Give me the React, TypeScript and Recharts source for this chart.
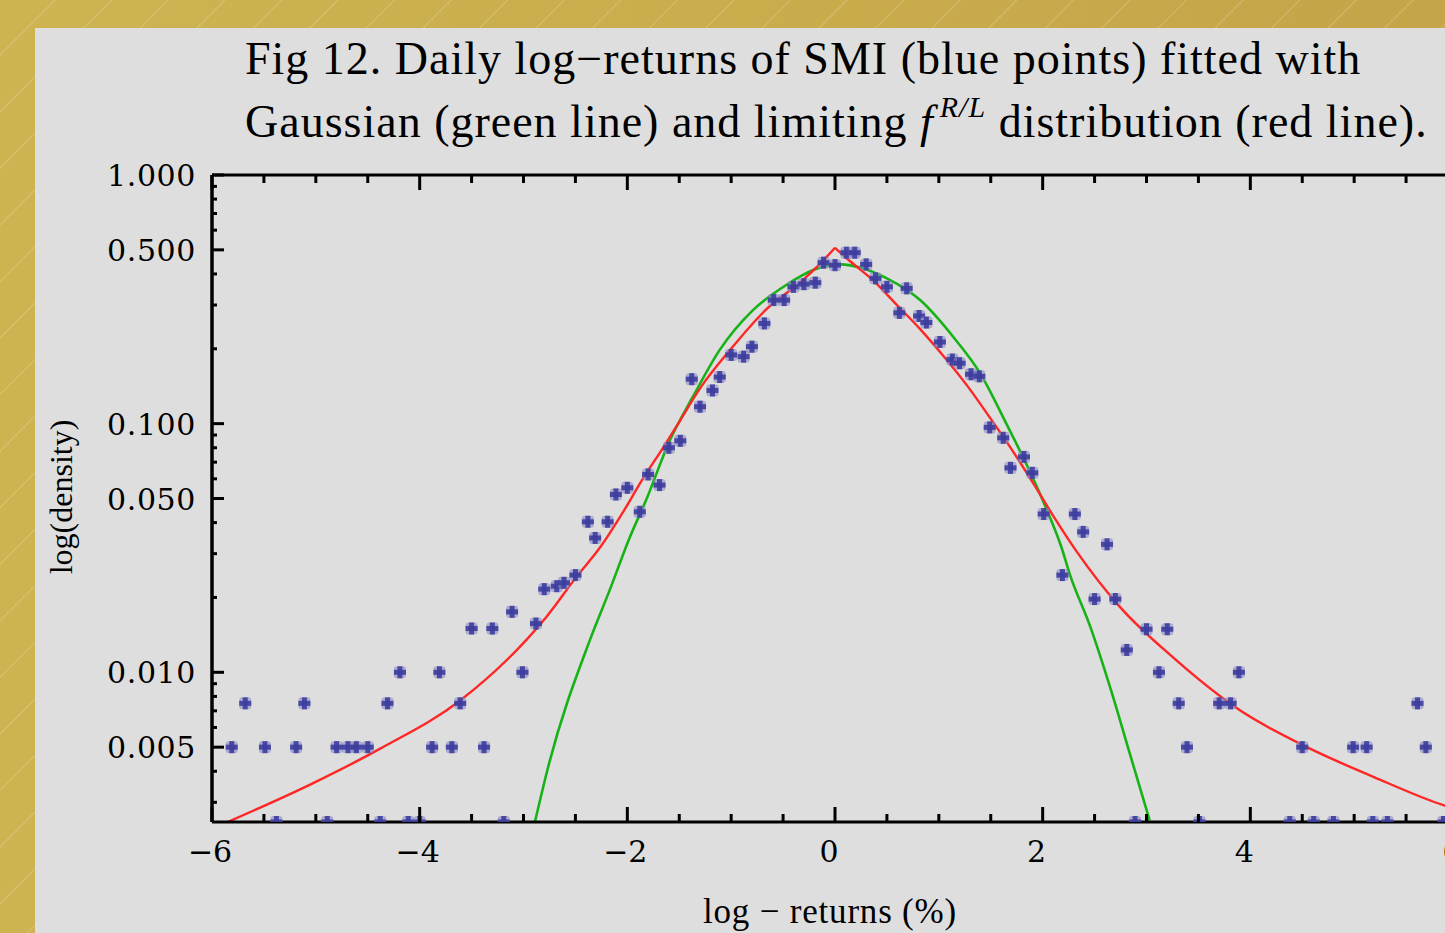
import React from 'react'
import { ComposedChart, Line, Scatter, XAxis, YAxis } from 'recharts'

// histogram points (blue)
const returnsPct = [
  -5.81, -5.68, -5.49, -5.38, -5.19, -5.11, -4.89, -4.8, -4.69, -4.61, -4.5, -4.38, -4.31, -4.19, -4.11, -4.0,
  -3.88, -3.81, -3.69, -3.61, -3.5, -3.38, -3.3, -3.19, -3.11, -3.01, -2.88, -2.8, -2.68, -2.61, -2.5, -2.38,
  -2.31, -2.19, -2.11, -2.0, -1.88, -1.8, -1.69, -1.6, -1.49, -1.38, -1.3, -1.18, -1.11, -1.0, -0.88, -0.8,
  -0.68, -0.59, -0.49, -0.4, -0.3, -0.19, -0.11, 0.0, 0.11, 0.19, 0.3, 0.39, 0.5, 0.62, 0.69, 0.81, 0.88, 1.01,
  1.13, 1.2, 1.31, 1.39, 1.49, 1.62, 1.69, 1.82, 1.9, 2.01, 2.19, 2.31, 2.39, 2.5, 2.62, 2.7, 2.81, 2.89, 3.0,
  3.12, 3.2, 3.31, 3.39, 3.51, 3.7, 3.81, 3.89, 4.38, 4.5, 4.61, 4.8, 4.99, 5.12, 5.18, 5.32, 5.61, 5.69, 5.86,
]
const densityPts = [
  0.005, 0.0075, 0.005, 0.0025, 0.005, 0.0075, 0.0025, 0.005, 0.005, 0.005, 0.005, 0.0025, 0.0075, 0.01, 0.0025, 0.0025,
  0.005, 0.01, 0.005, 0.0075, 0.015, 0.005, 0.015, 0.0025, 0.0175, 0.01, 0.0157, 0.0216, 0.0222, 0.0229, 0.0246, 0.0403,
  0.0347, 0.0403, 0.0519, 0.0552, 0.0442, 0.0625, 0.0566, 0.08, 0.0853, 0.151, 0.117, 0.136, 0.154, 0.189, 0.186, 0.204,
  0.253, 0.314, 0.314, 0.355, 0.364, 0.369, 0.444, 0.434, 0.487, 0.487, 0.437, 0.384, 0.355, 0.279, 0.35, 0.271, 0.255, 0.213,
  0.181, 0.175, 0.158, 0.155, 0.0966, 0.0877, 0.0664, 0.0735, 0.0634, 0.0433, 0.0246, 0.0433, 0.0367, 0.0197, 0.0327, 0.0197, 0.0123, 0.0025, 0.0149,
  0.01, 0.0149, 0.0075, 0.005, 0.0025, 0.0075, 0.0075, 0.01, 0.0025, 0.005, 0.0025, 0.0025, 0.005, 0.005, 0.0025, 0.0025, 0.0075, 0.005, 0.0025,
]

// limiting f R/L distribution (red), two branches meeting at the cusp
const redLeftX = [-5.85, -5.04, -4.38, -3.61, -2.97, -2.78, -2.49, -2.26, -2.04, -1.85, -1.65, -1.53, -1.29, -1.01, -0.67, -0.31, -0.14, 0.0]
const redLeftY = [0.0025, 0.00356, 0.00493, 0.0077, 0.01354, 0.0167, 0.0242, 0.0319, 0.0442, 0.0601, 0.0807, 0.097, 0.1406, 0.198, 0.286, 0.378, 0.441, 0.51]
const redRightX = [0.0, 0.14, 0.37, 0.59, 0.82, 1.04, 1.26, 1.49, 1.72, 1.91, 2.1, 2.33, 2.75, 3.25, 3.9, 4.54, 5.19, 5.86, 6.0]
const redRightY = [0.51, 0.452, 0.376, 0.302, 0.24, 0.188, 0.1445, 0.106, 0.0767, 0.0575, 0.0427, 0.0305, 0.0182, 0.01153, 0.00703, 0.00501, 0.00379, 0.00292, 0.0028]

// gaussian fit (green)
const greenX = [-2.89, -2.76, -2.36, -2.17, -1.975, -1.82, -1.59, -1.37, -1.11, -0.79, -0.47, -0.21, 0.05, 0.27, 0.5, 0.82, 1.14, 1.4, 1.65, 1.84, 2.04, 2.18, 2.26, 2.46, 2.65, 2.84, 3.03]
const greenY = [0.0025, 0.0042, 0.0135, 0.0214, 0.035, 0.0492, 0.0858, 0.128, 0.198, 0.286, 0.361, 0.415, 0.437, 0.421, 0.384, 0.314, 0.223, 0.159, 0.1, 0.0692, 0.045, 0.0319, 0.0249, 0.0152, 0.0087, 0.0047, 0.00254]

const xTicks = [-6, -5.5, -5, -4.5, -4, -3.5, -3, -2.5, -2, -1.5, -1, -0.5, 0, 0.5, 1, 1.5, 2, 2.5, 3, 3.5, 4, 4.5, 5, 5.5, 6]
const xMajor = [-6, -4, -2, 0, 2, 4, 6]
const yTicks = [0.003, 0.004, 0.005, 0.006, 0.007, 0.008, 0.009, 0.01, 0.02, 0.03, 0.04, 0.05, 0.06, 0.07, 0.08, 0.09, 0.1, 0.2, 0.3, 0.4, 0.5, 0.6, 0.7, 0.8, 0.9, 1]
const yMajor = [0.005, 0.01, 0.05, 0.1, 0.5, 1]

const toRows = (xs: number[], ys: number[]) => xs.map((x, i) => ({ x, d: ys[i] }))

const points = toRows(returnsPct, densityPts)
const redLeft = toRows(redLeftX, redLeftY)
const redRight = toRows(redRightX, redRightY)
const green = toRows(greenX, greenY)

const tickFont = { fontFamily: 'DejaVu Serif', fontSize: 30, fill: '#000' }

function BottomTick(props: any) {
  const { x, y, payload } = props
  const v = payload.value
  const major = xMajor.includes(v)
  return (
    <g>
      <line x1={x} x2={x} y1={y} y2={y - (major ? 15 : 8)} stroke="#000" strokeWidth={3} />
      {major && (
        <text x={v < 0 ? x - 2 : x - 6} y={y + 40} textAnchor="middle" {...tickFont}>
          {v < 0 ? `\u2212${-v}` : v}
        </text>
      )}
    </g>
  )
}

function TopTick(props: any) {
  const { x, y, payload } = props
  const major = xMajor.includes(payload.value)
  return <line x1={x} x2={x} y1={y} y2={y + (major ? 15 : 8)} stroke="#000" strokeWidth={3} />
}

function LeftTick(props: any) {
  const { x, y, payload } = props
  const v = payload.value
  const major = yMajor.includes(v)
  return (
    <g>
      <line x1={x} x2={x + (major ? 12 : 5)} y1={y} y2={y} stroke="#000" strokeWidth={3} />
      {major && (
        <text x={x - 16} y={y + 11} textAnchor="end" {...tickFont} letterSpacing={0.6}>
          {v.toFixed(3)}
        </text>
      )}
    </g>
  )
}

function RightTick(props: any) {
  const { x, y, payload } = props
  const major = yMajor.includes(payload.value)
  return <line x1={x} x2={x - (major ? 12 : 5)} y1={y} y2={y} stroke="#000" strokeWidth={3} />
}

function PlusMark(props: any) {
  const { cx, cy } = props
  if (cx == null || cy == null) return null
  return (
    <g>
      <rect x={cx - 6} y={cy - 6} width={12} height={12} rx={3} fill="#8a8ac4" fillOpacity={0.6} />
      <rect x={cx - 6} y={cy - 2.5} width={12} height={5} fill="#3d3d9f" fillOpacity={0.9} />
      <rect x={cx - 2.5} y={cy - 6} width={5} height={12} fill="#3d3d9f" fillOpacity={0.9} />
    </g>
  )
}

export default function App() {
  return (
    <div
      style={{
        position: 'fixed',
        left: 0,
        top: 0,
        width: 1445,
        height: 933,
        overflow: 'hidden',
        background:
          'repeating-linear-gradient(135deg, rgba(255,255,255,0) 0px, rgba(255,255,255,0) 38px, rgba(255,255,255,0.22) 39px, rgba(255,255,255,0) 40px), linear-gradient(90deg, #cdb451, #c9ab4c 60%, #c6a449)',
      }}
    >
      <div style={{ position: 'absolute', left: 35, top: 28, width: 1500, height: 1000, background: '#dedede' }} />
      <div style={{ position: 'absolute', left: 0, top: 0 }}>
        <ComposedChart width={1470} height={933} margin={{ top: 170, right: 0, bottom: 0, left: 0 }}>
          <XAxis
            dataKey="x"
            type="number"
            domain={[-6, 6]}
            ticks={xTicks}
            interval={0}
            allowDataOverflow
            height={111}
            axisLine={{ stroke: '#000', strokeWidth: 3 }}
            tickLine={false}
            tickSize={0}
            tickMargin={0}
            tick={BottomTick}
          />
          <XAxis
            xAxisId="top"
            orientation="top"
            dataKey="x"
            type="number"
            domain={[-6, 6]}
            ticks={xTicks}
            interval={0}
            allowDataOverflow
            height={5}
            axisLine={{ stroke: '#000', strokeWidth: 3 }}
            tickLine={false}
            tickSize={0}
            tickMargin={0}
            tick={TopTick}
          />
          <YAxis
            dataKey="d"
            type="number"
            scale="log"
            domain={[0.0025, 1]}
            ticks={yTicks}
            interval={0}
            allowDataOverflow
            width={212}
            axisLine={{ stroke: '#000', strokeWidth: 3.5 }}
            tickLine={false}
            tickSize={0}
            tickMargin={0}
            tick={LeftTick}
          />
          <YAxis
            yAxisId="right"
            orientation="right"
            dataKey="d"
            type="number"
            scale="log"
            domain={[0.0025, 1]}
            ticks={yTicks}
            interval={0}
            allowDataOverflow
            width={12}
            axisLine={{ stroke: '#000', strokeWidth: 3 }}
            tickLine={false}
            tickSize={0}
            tickMargin={0}
            tick={RightTick}
          />
          <Line data={green} dataKey="d" type="monotone" stroke="#17b217" strokeWidth={2.6} dot={false} isAnimationActive={false} />
          <Line data={redLeft} dataKey="d" type="monotone" stroke="#ff2626" strokeWidth={2.4} dot={false} isAnimationActive={false} />
          <Line data={redRight} dataKey="d" type="monotone" stroke="#ff2626" strokeWidth={2.4} dot={false} isAnimationActive={false} />
          <Scatter data={points} dataKey="d" shape={PlusMark} isAnimationActive={false} />
        </ComposedChart>
      </div>
      <svg width={1445} height={933} style={{ position: 'absolute', left: 0, top: 0, pointerEvents: 'none' }}>
        <g fontFamily="Liberation Serif" fill="#000">
          <text x={245} y={74} fontSize={46} letterSpacing={1}>
            Fig 12. Daily log{'\u2212'}returns of SMI (blue points) fitted with
          </text>
          <text x={245} y={137} fontSize={46} letterSpacing={1}>
            Gaussian (green line) and limiting{' '}
            <tspan fontStyle="italic">f</tspan>
            <tspan fontStyle="italic" fontSize={30} dx={6} dy={-20}>
              R/L
            </tspan>
            <tspan dy={20}> distribution (red line).</tspan>
          </text>
          <text x={830} y={923} fontSize={35} letterSpacing={0.8} textAnchor="middle">
            log {'\u2212'} returns (%)
          </text>
          <text x={72} y={497} fontSize={32} textAnchor="middle" transform="rotate(-90, 72, 497)">
            log(density)
          </text>
        </g>
      </svg>
    </div>
  )
}
